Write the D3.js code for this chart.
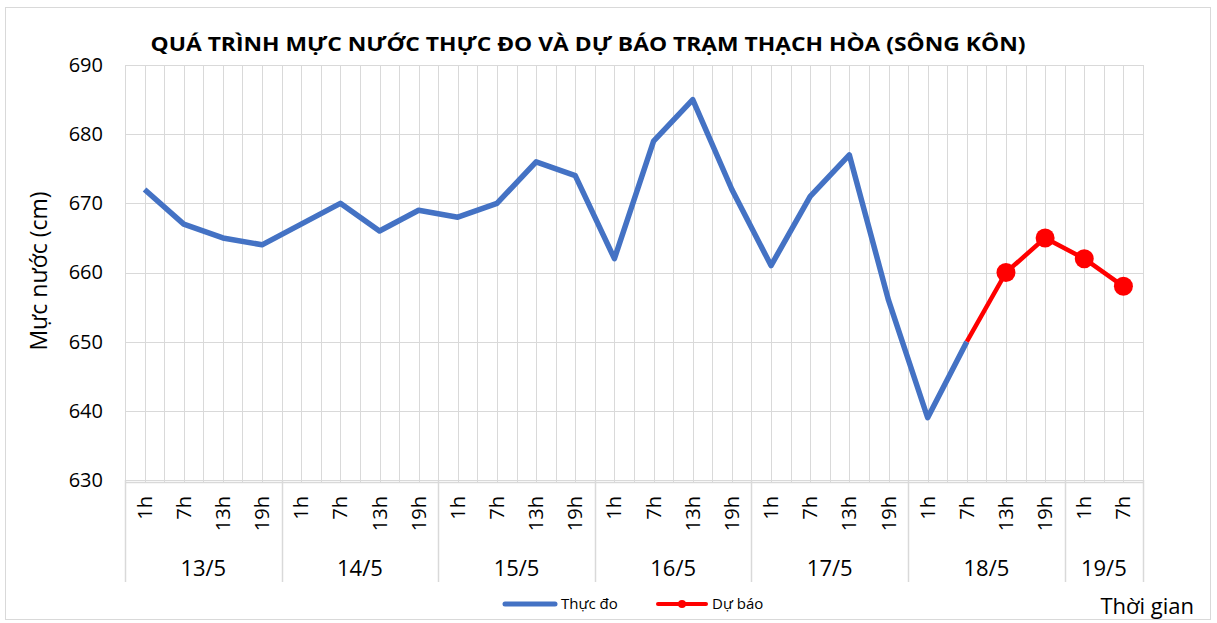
<!DOCTYPE html>
<html>
<head>
<meta charset="utf-8">
<script src="https://cdn.jsdelivr.net/npm/d3@7"></script>
<style>
  body { margin: 0; background: #fff; }
  text { font-family: "Open Sans", "Noto Sans", sans-serif; fill: #000; }
</style>
</head>
<body>
<div id="chart"></div>
<script>
var width = 1217;
var height = 623;

// data
var days = ["13/5", "14/5", "15/5", "16/5", "17/5", "18/5", "19/5"];
var dayCounts = [4, 4, 4, 4, 4, 4, 2];
var hours = ["1h", "7h", "13h", "19h"];
var observed = [672, 667, 665, 664, 667, 670, 666, 669, 668, 670, 676, 674,
  662, 679, 685, 672, 661, 671, 677, 656, 639, 650];
var forecast = [null, null, null, null, null, null, null, null, null, null, null, null,
  null, null, null, null, null, null, null, null, null, 650, 660, 665, 662, 658];
var yTicks = [630, 640, 650, 660, 670, 680, 690];

// build the category list
var cats = [];
days.forEach(function (d, i) {
  for (var k = 0; k < dayCounts[i]; k++) {
    cats.push({ day: d, hour: hours[k], idx: cats.length });
  }
});

var plotLeft = 125, plotRight = 1143, plotTop = 65, plotBottom = 480;

var xScale = d3.scaleBand().domain(d3.range(cats.length)).range([plotLeft, plotRight]);
var bw = xScale.bandwidth();
var xc = function (i) { return xScale(i) + bw / 2; };
var xEdge = function (i) { return i < cats.length ? xScale(i) : plotRight; };
var yScale = d3.scaleLinear().domain([630, 690]).range([plotBottom, plotTop]);

var svg = d3.select("#chart").append("svg")
  .attr("width", width)
  .attr("height", height);

// outer border
svg.append("rect")
  .attr("x", 5.5).attr("y", 7.5)
  .attr("width", 1205).attr("height", 612)
  .attr("fill", "#fff")
  .attr("stroke", "#d9d9d9")
  .attr("stroke-width", 1);

// vertical gridlines at every half category
var vLines = [];
for (var i = 0; i <= cats.length; i++) {
  vLines.push(xEdge(i));
  if (i < cats.length) vLines.push(xc(i));
}
svg.append("g").selectAll("line")
  .data(vLines)
  .enter().append("line")
  .attr("x1", function (d) { return Math.round(d) + 0.5; })
  .attr("x2", function (d) { return Math.round(d) + 0.5; })
  .attr("y1", plotTop)
  .attr("y2", plotBottom + 3)
  .attr("stroke", "#d9d9d9")
  .attr("stroke-width", 1);

// horizontal gridlines
svg.append("g").selectAll("line")
  .data(yTicks)
  .enter().append("line")
  .attr("x1", plotLeft)
  .attr("x2", plotRight)
  .attr("y1", function (d) { return Math.round(yScale(d)) + 0.5; })
  .attr("y2", function (d) { return Math.round(yScale(d)) + 0.5; })
  .attr("stroke", "#d9d9d9")
  .attr("stroke-width", 1);

// y axis labels
var yAxis = d3.axisLeft(yScale).tickValues(yTicks).tickSize(0).tickPadding(22);
var gy = svg.append("g")
  .attr("transform", "translate(" + plotLeft + ",0)")
  .call(yAxis);
gy.select(".domain").remove();
gy.selectAll("text")
  .style("font-size", "20px")
  .style("font-family", "'Open Sans', sans-serif")
  .attr("fill", "#222");

// category axis: day separators
var dayEdges = [plotLeft];
var acc = 0;
dayCounts.forEach(function (c) {
  acc += c;
  dayEdges.push(xEdge(acc));
});
svg.append("g").selectAll("line")
  .data(dayEdges)
  .enter().append("line")
  .attr("x1", function (d) { return Math.round(d) + 0.5; })
  .attr("x2", function (d) { return Math.round(d) + 0.5; })
  .attr("y1", plotBottom)
  .attr("y2", 582)
  .attr("stroke", "#d9d9d9")
  .attr("stroke-width", 1.5);

svg.append("line")
  .attr("x1", plotLeft).attr("x2", plotRight)
  .attr("y1", plotBottom + 2.5).attr("y2", plotBottom + 2.5)
  .attr("stroke", "#d9d9d9")
  .attr("stroke-width", 1.5);

// hour labels (rotated)
svg.append("g").selectAll("text")
  .data(cats)
  .enter().append("text")
  .attr("transform", function (d) {
    return "translate(" + xc(d.idx) + ",496) rotate(-90)";
  })
  .attr("text-anchor", "end")
  .attr("dy", "0.35em")
  .style("font-size", "20px")
  .attr("fill", "#222")
  .text(function (d) { return d.hour; });

// day labels
svg.append("g").selectAll("text")
  .data(days)
  .enter().append("text")
  .attr("x", function (d, i) { return (dayEdges[i] + dayEdges[i + 1]) / 2; })
  .attr("y", 576)
  .attr("text-anchor", "middle")
  .style("font-size", "22px")
  .attr("fill", "#222")
  .text(function (d) { return d; });

// lines
var line = d3.line()
  .defined(function (d) { return d != null; })
  .x(function (d, i) { return xc(i); })
  .y(function (d) { return yScale(d); });

svg.append("path")
  .datum(observed)
  .attr("d", line)
  .attr("fill", "none")
  .attr("stroke", "#4472C4")
  .attr("stroke-width", 5.5)
  .attr("stroke-linejoin", "round");

svg.append("path")
  .datum(forecast)
  .attr("d", line)
  .attr("fill", "none")
  .attr("stroke", "#FF0000")
  .attr("stroke-width", 4.5)
  .attr("stroke-linejoin", "round");

// forecast markers (first forecast point joins the observed line, no marker)
svg.append("g").selectAll("circle")
  .data(forecast.map(function (v, i) { return { v: v, i: i }; })
    .filter(function (d) { return d.v != null && d.i > 21; }))
  .enter().append("circle")
  .attr("cx", function (d) { return xc(d.i); })
  .attr("cy", function (d) { return yScale(d.v); })
  .attr("r", 9.5)
  .attr("fill", "#FF0000");

// title
svg.append("text")
  .attr("x", 588)
  .attr("y", 51)
  .attr("text-anchor", "middle")
  .style("font-size", "20px")
  .style("font-weight", "bold")
  .attr("textLength", 875)
  .attr("lengthAdjust", "spacingAndGlyphs")
  .text("QUÁ TRÌNH MỰC NƯỚC THỰC ĐO VÀ DỰ BÁO TRẠM THẠCH HÒA (SÔNG KÔN)");

// y axis title
svg.append("text")
  .attr("transform", "translate(47,271) rotate(-90)")
  .attr("text-anchor", "middle")
  .style("font-size", "23px")
  .text("Mực nước (cm)");

// legend
var lg = svg.append("g");
lg.append("line")
  .attr("x1", 505).attr("x2", 555)
  .attr("y1", 604).attr("y2", 604)
  .attr("stroke", "#4472C4").attr("stroke-width", 5)
  .attr("stroke-linecap", "round");
lg.append("text")
  .attr("x", 561).attr("y", 609)
  .style("font-size", "15px")
  .text("Thực đo");
lg.append("line")
  .attr("x1", 658).attr("x2", 706)
  .attr("y1", 604).attr("y2", 604)
  .attr("stroke", "#FF0000").attr("stroke-width", 4)
  .attr("stroke-linecap", "round");
lg.append("circle")
  .attr("cx", 682).attr("cy", 604).attr("r", 4)
  .attr("fill", "#FF0000");
lg.append("text")
  .attr("x", 712).attr("y", 609)
  .style("font-size", "15px")
  .text("Dự báo");

svg.append("text")
  .attr("x", 1194).attr("y", 614)
  .attr("text-anchor", "end")
  .style("font-size", "22px")
  .attr("fill", "#222")
  .text("Thời gian");
</script>
</body>
</html>
